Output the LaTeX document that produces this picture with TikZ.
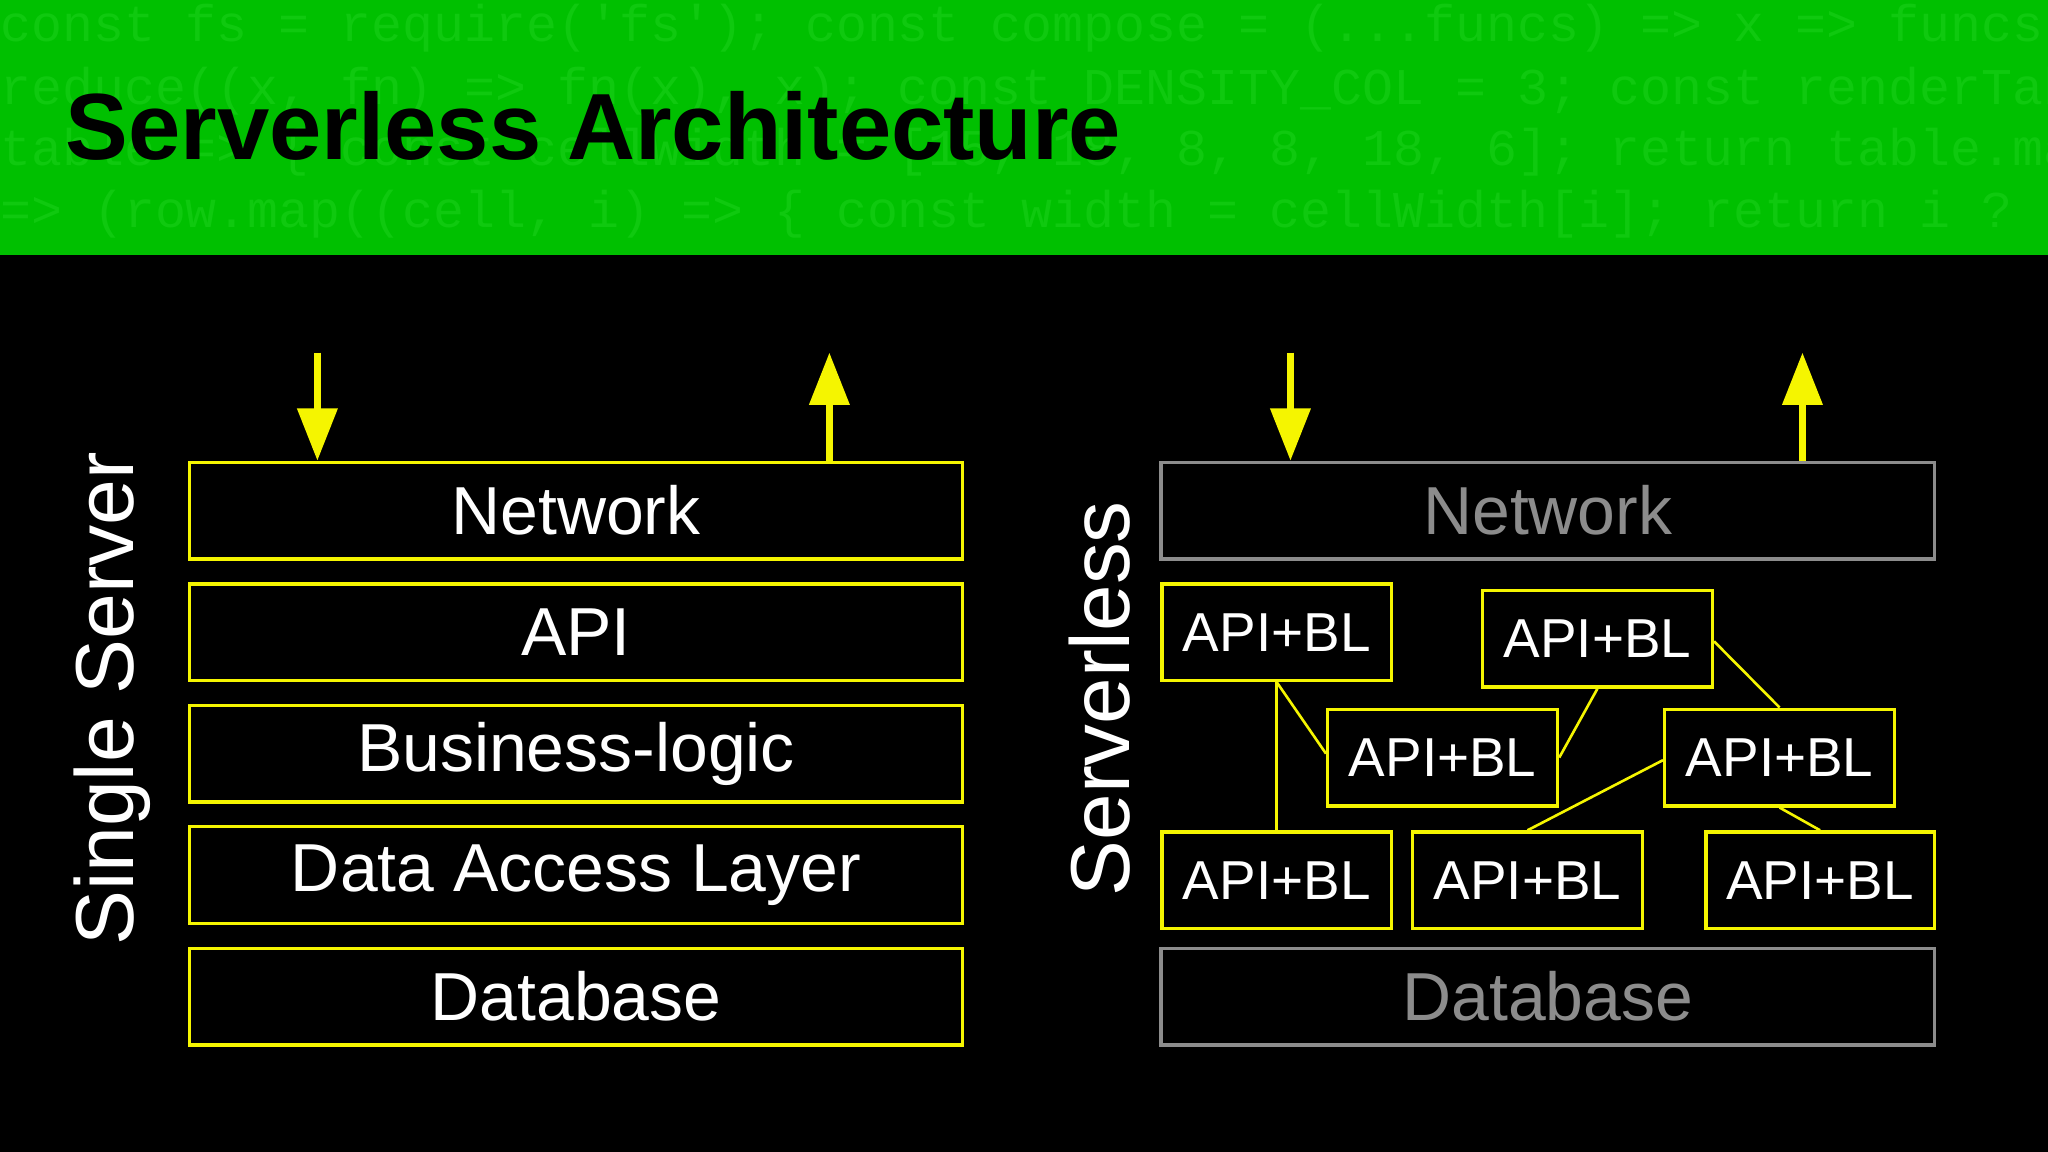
\documentclass[tikz,border=0pt]{standalone}
\usepackage{fontspec}
\setmainfont{Liberation Sans}
\newfontfamily\codefont{Liberation Mono}
\usetikzlibrary{arrows.meta}
\definecolor{bandgreen}{HTML}{00C000}
\definecolor{codegreen}{HTML}{0FC90F}
\definecolor{ylw}{HTML}{F5F500}
\definecolor{gry}{HTML}{8C8C8C}
\begin{document}
\begin{tikzpicture}[x=1pt,y=-1pt,
  layer/.style={draw=ylw,line width=2.6pt,minimum width=592pt,minimum height=74pt,inner sep=0pt,text=white,font=\fontsize{52}{54}\selectfont},
  glayer/.style={layer,draw=gry,text=gry},
  fn/.style={draw=ylw,line width=2.6pt,minimum width=176pt,minimum height=74pt,inner sep=0pt,text=white,font=\fontsize{42}{44}\selectfont},
  link/.style={ylw,line width=2pt},
  io/.style={ylw,line width=5pt,-{Triangle[width=30pt,length=40pt]}},
  code/.style={anchor=base west,text=codegreen,font=\codefont\fontsize{39.5}{40}\selectfont,inner sep=0pt}]
\useasboundingbox (0,0) rectangle (1568,882);
\fill[black] (0,0) rectangle (1568,882);
\fill[bandgreen] (0,0) rectangle (1568,195);
\begin{scope}
\clip (0,0) rectangle (1568,195);
\node[code] (c1) at (0,32) {const fs = require('fs'); const compose = (...funcs) => x => funcs.};
\node[code] (c2) at (0,80) {reduce((x, fn) => fn(x), x); const DENSITY\_COL = 3; const renderTable};
\node[code] (c3) at (0,127) {table => \{ const cellWidth = [15, 18, 8, 8, 18, 6]; return table.map};
\node[code] (c4) at (0,174) {=> (row.map((cell, i) => \{ const width = cellWidth[i]; return i ? };
\end{scope}
\node[anchor=base west,inner sep=0pt,font=\bfseries\fontsize{72}{74}\selectfont] (title) at (50,122) {Serverless Architecture};

% left stack
\node[layer] (net) at (441,391) {Network};
\node[layer] (api) at (441,484) {API};
\node[layer] (bl) at (441,577) {Business-logic};
\node[layer] (dal) at (441,670) {Data Access Layer};
\node[layer] (db) at (441,763) {Database};
\node[rotate=90,text=white,font=\fontsize{63}{65}\selectfont] (ss) at (86,535) {Single Server};
\coordinate (inL) at (243,270);
\coordinate (outL) at (635,270);
\draw[io] (inL) -- (inL|-net.north);
\draw[io] (outL|-net.north) -- (outL);

% right
\node[glayer] (net2) at (1185,391) {Network};
\node[glayer] (db2) at (1185,763) {Database};
\node[rotate=90,text=white,font=\fontsize{64}{66}\selectfont] (sl) at (842,535) {Serverless};
\coordinate (inR) at (988,270);
\coordinate (outR) at (1380,270);
\draw[io] (inR) -- (inR|-net2.north);
\draw[io] (outR|-net2.north) -- (outR);

\node[fn] (A) at (977.5,484) {API+BL};
\node[fn] (B) at (1223,489) {API+BL};
\node[fn] (C) at (1104.5,580) {API+BL};
\node[fn] (D) at (1362.5,580) {API+BL};
\node[fn] (E) at (977.5,674) {API+BL};
\node[fn] (F) at (1169.5,674) {API+BL};
\node[fn,minimum width=175pt] (G) at (1393.5,674) {API+BL};

\draw[link] (A.south) -- ([yshift=3pt]C.west);
\draw[link] (A.south) -- (E.north);
\draw[link] (B.south) -- (C.east);
\draw[link] ([yshift=-2pt]B.east) -- (D.north);
\draw[link] ([yshift=-2pt]D.west) -- (F.north);
\draw[link] (D.south) -- (G.north);
\end{tikzpicture}
\end{document}
